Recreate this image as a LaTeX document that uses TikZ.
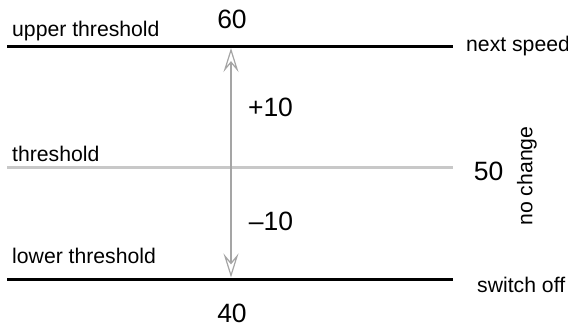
\documentclass[tikz,border=0pt]{standalone}
\usepackage{fontspec}
\setmainfont{Liberation Sans}
\usetikzlibrary{arrows.meta}
\definecolor{linegray}{RGB}{200,200,200}
\definecolor{arrowgray}{RGB}{165,165,165}
\begin{document}
\begin{tikzpicture}[x=1pt,y=-1pt,
  lbl/.style={inner sep=0pt,font=\fontsize{21.2}{24}\selectfont},
  num/.style={inner sep=0pt,font=\fontsize{26.5}{30}\selectfont},
  level/.style={line width=3pt,black},
  midlevel/.style={line width=3pt,linegray},
  span/.style={line width=1.8pt,arrowgray,
    {Stealth[open,length=24pt,width=15pt,inset=9pt,line width=1.2pt]}-{Stealth[open,length=24pt,width=15pt,inset=9pt,line width=1.2pt]}}]
\useasboundingbox (0,0) rectangle (568,326);
% level lines
\coordinate (ul) at (7,46.5);  \coordinate (ur) at (453,46.5);
\coordinate (ml) at (7,167.5); \coordinate (mr) at (453,167.5);
\coordinate (ll) at (7,279);   \coordinate (lr) at (453,279);
\draw[level] (ul) -- (ur);
\draw[midlevel] (ml) -- (mr);
\draw[level] (ll) -- (lr);
% arrow
\coordinate (at) at (231,48);
\coordinate (ab) at (231,277.5);
\draw[span] (at) -- (ab);
% labels
\node[lbl,anchor=base west] (tup) at (12,37) {upper threshold};
\node[lbl,anchor=base west] (tmid) at (12,162) {threshold};
\node[lbl,anchor=base west] (tlow) at (12,263) {lower threshold};
\node[lbl,anchor=west] (tnext) at (466,46.5) {next speed};
\node[lbl,anchor=west] (toff) at (477,285) {switch off};
\node[lbl,rotate=90] (tno) at (527,176) {no change};
% numbers
\node[num] (n60) at (232,19.5) {60};
\node[num] (n40) at (232,313) {40};
\node[num] (n50) at (488.5,171) {50};
\node[num] (nplus) at (270.5,107.5) {+10};
\node[num] (nminus) at (271,221.5) {–10};
\end{tikzpicture}
\end{document}
